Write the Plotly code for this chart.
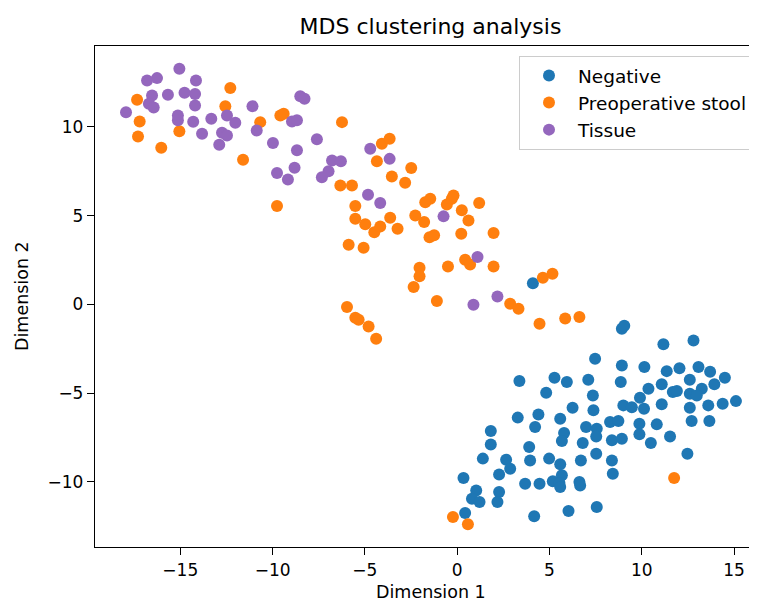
import plotly.graph_objects as go

# ---------------- data ----------------
negative_x = [4.1, 3.37, 5.27, 5.94, 7.1, 4.82, 7.35, 6.25, 7.38, 3.28, 4.4, 5.58, 4.22, 6.98, 7.56,
              5.79, 5.67, 6.8, 7.53, 1.82, 1.82, 3.9, 7.53, 1.39, 2.65, 2.87, 2.27, 3.95, 4.98, 5.58,
              6.7, 5.67, 0.34, 3.68, 4.46, 5.18, 5.54, 5.58, 6.62, 6.66, 1.03, 0.8, 1.21, 2.27, 2.18,
              0.43, 4.17, 6.03, 7.56,
              8.92, 9.05, 11.17, 12.8, 7.47, 8.92, 10.14, 11.35, 12.04, 13.07, 13.7, 14.5, 8.86, 12.6,
              13.25, 13.93, 10.36, 11.08, 11.68, 11.9, 12.6, 12.98, 9.9, 9.0, 9.46, 10.12, 11.08, 12.6,
              13.6, 14.38, 15.1, 8.28, 8.73, 9.87, 10.81, 12.7, 13.66, 8.38, 8.92, 9.87, 10.49, 11.53,
              8.38, 12.47, 8.43]
negative_y = [1.19, -4.32, -4.13, -4.37, -4.24, -4.98, -5.13, -5.82, -5.97, -6.38, -6.2, -6.44, -6.91,
              -6.91, -7.0, -7.25, -7.7, -7.81, -7.44, -7.14, -7.89, -8.04, -8.41, -8.69, -8.75, -9.26,
              -9.58, -8.79, -8.69, -9.01, -8.79, -9.63, -9.78, -10.1, -10.1, -9.97, -10.06, -10.29,
              -10.01, -10.2, -10.48, -10.95, -11.14, -10.57, -11.14, -11.76, -11.94, -11.64, -11.42,
              -1.37, -1.2, -2.25, -2.03, -3.06, -3.44, -3.53, -3.76, -3.6, -3.53, -3.8, -4.13, -4.37,
              -4.24, -4.75, -4.5, -4.75, -4.5, -4.94, -4.88, -5.03, -5.13, -5.26, -5.69, -5.79, -5.88,
              -5.63, -5.82, -5.69, -5.6, -5.45, -6.63, -6.57, -6.72, -6.76, -6.57, -6.57, -7.66, -7.57,
              -7.32, -7.81, -7.44, -8.79, -8.41, -9.54]

stool_x = [-17.34, -17.2, -17.29, -16.03, -15.05, -12.56, -12.29, -11.6, -10.67, -9.58, -9.4, -9.76,
           -6.24, -6.33, -5.7, -5.52, -5.52, -4.98, -4.49, -4.17, -5.88, -5.07, -4.08, -3.66, -4.35,
           -2.49, -3.54, -2.82, -3.63, -3.23, -2.27, -1.79, -1.73, -1.46, -1.5, -1.25, -0.56, -0.29,
           -0.2, 0.25, 0.61, 1.19, 0.22, 1.97, 0.43, 0.7, -0.5, -2.04, -2.04, -2.36, 1.97, -1.1,
           2.87, 3.32, 4.64, 5.16, 4.46, 5.85, 6.62, -5.97, -5.52, -5.34, -4.8, -4.39,
           11.75, -0.23, 0.58]
stool_y = [11.53, 10.31, 9.46, 8.83, 9.75, 11.17, 12.19, 8.15, 10.27, 10.65, 10.74, 5.54,
           10.27, 6.7, 6.7, 5.54, 4.83, 4.51, 4.07, 4.39, 3.36, 3.19, 9.05, 9.33, 8.07,
           7.68, 7.21, 6.86, 4.88, 4.26, 5.01, 4.64, 5.76, 5.95, 3.79, 3.89, 5.63, 5.95,
           6.14, 5.3, 4.73, 5.71, 3.98, 4.02, 2.52, 2.25, 2.14, 2.07, 1.58, 0.98, 2.14, 0.19,
           0.04, -0.24, 1.5, 1.73, -1.09, -0.8, -0.71, -0.15, -0.75, -0.86, -1.24, -1.93,
           -9.78, -11.98, -12.39]

tissue_x = [-17.94, -16.8, -16.26, -15.05, -16.53, -16.7, -16.44, -15.67, -14.77, -14.2, -14.15, -14.2,
            -15.13, -15.13, -14.3, -13.82, -13.32, -12.47, -12.02, -12.74, -12.47, -12.89, -11.09,
            -10.86, -9.98, -8.95, -8.68, -9.76, -9.17, -8.81, -8.68, -8.5, -8.27, -7.6, -6.78, -6.3,
            -6.97, -7.33, -4.71, -3.66, -4.83, -4.17, -0.74, 1.1, 2.18, 0.88]
tissue_y = [10.83, 12.62, 12.75, 13.28, 11.77, 11.3, 11.1, 11.81, 11.92, 11.86, 12.62, 11.21,
            10.65, 10.37, 10.29, 9.62, 10.46, 10.65, 10.24, 9.67, 9.52, 8.99, 11.17,
            9.8, 9.09, 10.31, 10.37, 7.4, 7.04, 7.7, 8.68, 11.73, 11.59, 9.3, 8.11, 8.07,
            7.5, 7.17, 8.77, 8.2, 6.18, 5.71, 4.96, 2.67, 0.45, -0.02]

series_names = ["Negative", "Preoperative stool", "Tissue"]
series_colors = ["#1f77b4", "#ff7f0e", "#9467bd"]
x_ticks = [-15, -10, -5, 0, 5, 10, 15]
y_ticks = [-10, -5, 0, 5, 10]

title_text = "MDS clustering analysis"
x_title = "Dimension 1"
y_title = "Dimension 2"

# ---------------- figure ----------------
FONT = "DejaVu Sans"
OFF = 8  # page body margin in the browser
W, H = 757 - OFF, 603 - OFF
ML, MR, MT, MB = 95 - OFF, 0, 46 - OFF, 56
pw, ph = W - ML - MR, H - MT - MB

fig = go.Figure()
for i, (xs, ys) in enumerate([(negative_x, negative_y), (stool_x, stool_y), (tissue_x, tissue_y)]):
    fig.add_trace(go.Scatter(
        x=xs, y=ys, mode="markers", name=series_names[i],
        legendgroup=series_names[i],
        marker=dict(color=series_colors[i], size=12, line=dict(width=0)),
    ))

fig.update_layout(
    width=W, height=H,
    margin=dict(l=ML, r=MR, t=MT, b=MB, autoexpand=False),
    paper_bgcolor="white", plot_bgcolor="white",
    font=dict(family=FONT, size=17, color="black"),
    title=dict(text=title_text, font=dict(family=FONT, size=22, color="black"),
               x=(430.5 - OFF) / W, xref="container", xanchor="center",
               y=1 - (26 - OFF) / H, yref="container", yanchor="middle"),
    showlegend=True,
    legend=dict(
        x=(519 - 95) / pw, y=(547 - 56) / ph,
        xanchor="left", yanchor="top",
        bgcolor="rgba(255,255,255,0.8)", bordercolor="#cccccc", borderwidth=1,
        font=dict(family=FONT, size=18.5, color="black"),
        tracegroupgap=0, itemwidth=48, indentation=0,
    ),
    annotations=[
        dict(text=x_title, x=(430.5 - 95) / pw, y=(547 - 592) / ph, xref="paper", yref="paper",
             xanchor="center", yanchor="middle", showarrow=False,
             font=dict(family=FONT, size=17.5, color="black")),
        dict(text=y_title, x=(22 - 95) / pw, y=(547 - 296) / ph, xref="paper", yref="paper",
             xanchor="center", yanchor="middle", showarrow=False, textangle=-90,
             font=dict(family=FONT, size=17.5, color="black")),
    ],
)

fig.update_xaxes(
    range=[-19.62, 16.24], tickvals=x_ticks, ticks="outside", ticklen=7, tickwidth=1.3,
    tickcolor="black", showline=True, linecolor="black", linewidth=1.3, mirror=True,
    showgrid=False, zeroline=False, tickfont=dict(family=FONT, size=17, color="black"),
)
fig.update_yaxes(
    range=[-13.67, 14.56], tickvals=y_ticks, ticks="outside", ticklen=7, tickwidth=1.3,
    tickcolor="black", showline=True, linecolor="black", linewidth=1.3, mirror=False,
    showgrid=False, zeroline=False, tickfont=dict(family=FONT, size=17, color="black"),
)

fig.write_html("out.html")
